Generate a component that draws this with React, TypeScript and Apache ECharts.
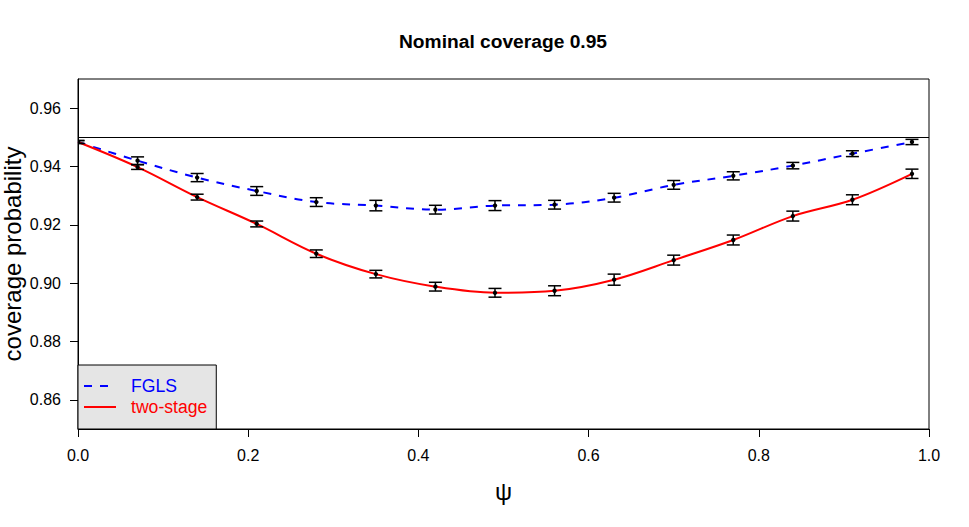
import React, { useEffect, useRef } from "react";
import * as echarts from "echarts";

const psi = [0, 0.07, 0.14, 0.21, 0.28, 0.35, 0.42, 0.49, 0.56, 0.63, 0.7, 0.77, 0.84, 0.91, 0.98];
const fgls = [0.9484, 0.942, 0.9362, 0.9316, 0.9278, 0.9266, 0.9252, 0.9266, 0.9269, 0.9293, 0.9337, 0.9368, 0.9403, 0.9444, 0.9484];
const fglsErr = [0.0005, 0.0013, 0.0014, 0.0015, 0.0015, 0.0018, 0.0015, 0.0017, 0.0015, 0.0015, 0.0015, 0.0014, 0.0011, 0.001, 0.0009];
const twoStage = [0.9484, 0.9398, 0.9295, 0.9203, 0.9101, 0.9031, 0.8988, 0.8967, 0.8974, 0.9012, 0.9079, 0.9148, 0.923, 0.9286, 0.9375];
const twoStageErr = [0.0005, 0.0008, 0.001, 0.001, 0.0013, 0.0013, 0.0015, 0.0015, 0.0017, 0.0019, 0.0017, 0.0017, 0.0017, 0.0017, 0.0016];
const yTicks = [0.86, 0.88, 0.9, 0.92, 0.94, 0.96];
const xTicks = [0, 0.2, 0.4, 0.6, 0.8, 1.0];
const nominal = 0.95;

const FONT = "'Liberation Sans', Arial, sans-serif";

export default function App() {
  const ref = useRef<HTMLDivElement>(null);
  useEffect(() => {
    if (!ref.current) return;
    const chart = echarts.init(ref.current, undefined, { renderer: "svg" });
    const errData = [
      ...psi.map((x, i) => [x, fgls[i], fglsErr[i]]),
      ...psi.map((x, i) => [x, twoStage[i], twoStageErr[i]]),
    ];
    const option: any = {
      animation: false,
      backgroundColor: "#ffffff",
      textStyle: { fontFamily: FONT },
      title: {
        text: "Nominal coverage 0.95",
        left: 498,
        top: 27,
        textAlign: "center",
        textStyle: { fontFamily: FONT, fontWeight: "bold", fontSize: 19.2, color: "#000" },
      },
      grid: {
        left: 78,
        top: 79,
        width: 851,
        height: 350,
        containLabel: false,
        outerBoundsMode: "none",
        show: true,
        borderColor: "#000",
        borderWidth: 1,
        backgroundColor: "transparent",
      },
      legend: {
        orient: "vertical",
        left: 78,
        top: 365,
        padding: [12, 9, 13, 5],
        itemGap: 3,
        itemWidth: 32,
        itemHeight: 14,
        backgroundColor: "#e5e5e5",
        borderColor: "#000",
        borderWidth: 1,
        borderRadius: 0,
        selectedMode: false,
        itemStyle: { opacity: 0 },
        lineStyle: { width: 2 },
        textStyle: { fontFamily: FONT, fontSize: 17.6, lineHeight: 18, padding: [0, 0, 0, 10] },
        data: [
          { name: "FGLS", textStyle: { color: "#0000ff" } },
          { name: "two-stage", textStyle: { color: "#ff0000" } },
        ],
      },
      xAxis: {
        type: "value",
        min: 0,
        max: 1,
        interval: 0.2,
        name: "\u03c8",
        nameLocation: "middle",
        nameGap: 50,
        nameMoveOverlap: false,
        nameTextStyle: { fontFamily: FONT, fontSize: 24, color: "#000" },
        axisLine: { show: true, lineStyle: { color: "#000", width: 1 } },
        axisTick: { show: true, inside: false, length: 8, lineStyle: { color: "#000" }, customValues: xTicks },
        axisLabel: {
          margin: 18,
          fontFamily: FONT,
          fontSize: 16,
          color: "#000",
          customValues: xTicks,
          formatter: (v: number) => v.toFixed(1),
        },
        splitLine: { show: false },
      },
      yAxis: {
        type: "value",
        min: 0.85,
        max: 0.97,
        name: "coverage probability",
        nameLocation: "middle",
        nameRotate: 90,
        nameGap: 54,
        nameMoveOverlap: false,
        nameTextStyle: { fontFamily: FONT, fontSize: 24, color: "#000" },
        axisLine: { show: true, lineStyle: { color: "#000", width: 1 } },
        axisTick: { show: true, inside: false, length: 8, lineStyle: { color: "#000" }, customValues: yTicks },
        axisLabel: {
          margin: 17,
          fontFamily: FONT,
          fontSize: 16,
          color: "#000",
          customValues: yTicks,
          formatter: (v: number) => v.toFixed(2),
        },
        splitLine: { show: false },
      },
      series: [
        {
          name: "FGLS",
          type: "line",
          data: psi.map((x, i) => [x, fgls[i]]),
          smooth: 0.35,
          symbol: "none",
          color: "#0000ff",
          lineStyle: { color: "#0000ff", width: 2, type: [8, 8] },
          z: 2,
        },
        {
          name: "two-stage",
          type: "line",
          data: psi.map((x, i) => [x, twoStage[i]]),
          smooth: 0.35,
          symbol: "none",
          color: "#ff0000",
          lineStyle: { color: "#ff0000", width: 2, type: "solid" },
          z: 2,
          markLine: {
            silent: true,
            symbol: "none",
            label: { show: false },
            lineStyle: { color: "#000", width: 1, type: "solid" },
            data: [{ yAxis: nominal }],
          },
        },
        {
          name: "errorbars",
          type: "custom",
          clip: true,
          z: 3,
          data: errData,
          renderItem: (params: any, api: any) => {
            const x = api.value(0);
            const y = api.value(1);
            const e = api.value(2);
            const c = api.coord([x, y]);
            const lo = api.coord([x, y - e]);
            const hi = api.coord([x, y + e]);
            const hw = 6.5;
            const st = { stroke: "#000", lineWidth: 1.5 };
            return {
              type: "group",
              children: [
                { type: "line", shape: { x1: c[0], y1: lo[1], x2: c[0], y2: hi[1] }, style: st },
                { type: "line", shape: { x1: c[0] - hw, y1: lo[1], x2: c[0] + hw, y2: lo[1] }, style: st },
                { type: "line", shape: { x1: c[0] - hw, y1: hi[1], x2: c[0] + hw, y2: hi[1] }, style: st },
                { type: "circle", shape: { cx: c[0], cy: c[1], r: 2.2 }, style: { fill: "#000" } },
              ],
            };
          },
        },
      ],
    };
    chart.setOption(option);
    return () => chart.dispose();
  }, []);
  return (
    <div
      ref={ref}
      style={{ position: "fixed", left: 0, top: 0, width: 969, height: 527, background: "#fff" }}
    />
  );
}
